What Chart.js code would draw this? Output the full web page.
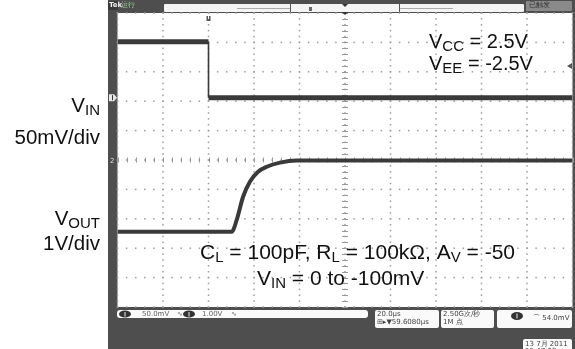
<!DOCTYPE html>
<html><head><meta charset="utf-8">
<script src="https://cdn.jsdelivr.net/npm/chart.js@4"></script>
<style>
html,body{margin:0;padding:0;background:#fff;}
#wrap{position:relative;width:575px;height:349px;overflow:hidden;font-family:"Liberation Sans",Arial,sans-serif;}
#c{position:absolute;left:0;top:0;}
.t{position:absolute;font-size:20px;line-height:20px;color:#111;white-space:nowrap;}
.b{font-size:21px;line-height:21px;}
.l{font-size:20.5px;}
.s{font-size:15px;position:relative;top:3px;}
.r{text-align:right;right:475px;}
.m{position:absolute;font-family:"DejaVu Sans",sans-serif;font-size:7px;line-height:7px;color:#666;white-space:nowrap;}
.w{color:#eee;}
</style></head>
<body><div id="wrap">
<canvas id="c" width="575" height="349"></canvas>
<div class="t r l" style="top:95px">V<span class="s">IN</span></div>
<div class="t r l" style="top:127px">50mV/div</div>
<div class="t r l" style="top:208px">V<span class="s">OUT</span></div>
<div class="t r l" style="top:233px">1V/div</div>
<div class="t" style="left:429px;top:31px">V<span class="s">CC</span> = 2.5V</div>
<div class="t" style="left:429px;top:53px">V<span class="s">EE</span> = -2.5V</div>
<div class="t b" style="left:200px;top:241px">C<span class="s">L</span> = 100pF, R<span class="s">L</span> = 100kΩ, A<span class="s">V</span> = -50</div>
<div class="t b" style="left:257px;top:267px">V<span class="s">IN</span> = 0 to -100mV</div>
<div class="m w" style="left:109px;top:2px;font-weight:bold">Tek</div>
<div class="m" style="left:121px;top:2px;color:#9c9">运行</div>
<div class="m" style="left:529px;top:2px;color:#333">已触发</div>
<div class="m" style="left:142px;top:311px">50.0mV</div>
<div class="m" style="left:177px;top:311px">∿</div>
<div class="m" style="left:202px;top:311px">1.00V</div>
<div class="m" style="left:231px;top:311px">∿</div>
<div class="m" style="left:377px;top:311px;color:#444">20.0µs</div>
<div class="m" style="left:377px;top:319px;color:#444">⊞▸▼59.6080µs</div>
<div class="m" style="left:443px;top:311px;color:#444">2.50G次/秒</div>
<div class="m" style="left:443px;top:319px;color:#444">1M 点</div>
<div class="m" style="left:533px;top:315px;color:#444">⌒ 54.0mV</div>
<div class="m" style="left:525px;top:341px;color:#444">13 7月 2011</div>
<div class="m" style="left:525px;top:348px;color:#444">15:47:23</div>
</div>
<script>
// time axis in microseconds (20 µs/div, 10 divisions); vertical values in screen divisions
const vinTimeUs  = [0, 40, 40, 200];
const vinDiv     = [4.02, 4.02, 2.12, 2.12];
const voutTimeUs = [0, 50.2, 52.4, 55.2, 58.2, 61.8, 65.6, 71.4, 78.8, 200];
const voutDiv    = [-2.44, -2.44, -2.04, -1.25, -0.74, -0.40, -0.23, -0.09, -0.02, -0.02];
const xDivisions = [0,20,40,60,80,100,120,140,160,180,200];
const yDivisions = [-5,-4,-3,-2,-1,0,1,2,3,4,5];

const pts = (xs, ys) => xs.map((x, i) => ({x, y: ys[i]}));

function rr(ctx,x,y,w,h,r,fill){ctx.beginPath();ctx.roundRect(x,y,w,h,r);ctx.fillStyle=fill;ctx.fill();}

const frame = {
  id: 'frame',
  beforeDraw(chart) {
    const {ctx, chartArea: a, scales: {x: xs, y: ys}} = chart;
    ctx.save();
    ctx.fillStyle = '#fff'; ctx.fillRect(0, 0, 575, 349);
    ctx.fillStyle = '#4e4e4e'; ctx.fillRect(108, 0, 467, 349);
    ctx.fillStyle = '#fff'; ctx.fillRect(a.left, a.top, a.right - a.left, a.bottom - a.top);
    // grid dots
    ctx.fillStyle = '#9c9c9c';
    xDivisions.forEach(t => {
      const px = xs.getPixelForValue(t);
      for (let j = 0; j <= 50; j++) {
        const py = ys.getPixelForValue(-5 + j * 0.2);
        ctx.fillRect(px - 0.75, py - 0.75, 1.5, 1.5);
      }
    });
    yDivisions.forEach(v => {
      const py = ys.getPixelForValue(v);
      for (let j = 0; j <= 50; j++) {
        const px = xs.getPixelForValue(j * 4);
        ctx.fillRect(px - 0.75, py - 0.75, 1.5, 1.5);
      }
    });
    // center crosshair ticks
    ctx.strokeStyle = '#999'; ctx.lineWidth = 1;
    const cx = xs.getPixelForValue(100), cy = ys.getPixelForValue(0);
    ctx.beginPath();
    for (let j = 0; j <= 50; j++) {
      const px = Math.round(xs.getPixelForValue(j * 4)) + 0.5;
      ctx.moveTo(px, cy - 2.5); ctx.lineTo(px, cy + 2.5);
      const py = Math.round(ys.getPixelForValue(-5 + j * 0.2)) + 0.5;
      ctx.moveTo(cx - 3, py); ctx.lineTo(cx + 3, py);
    }
    ctx.stroke();
    // top bar
    rr(ctx, 108, 1, 10, 9, 1, '#3a3a3a');
    rr(ctx, 164, 4, 360, 8, 1, '#f4f4f4');
    ctx.strokeStyle = '#aaa'; ctx.beginPath();
    ctx.moveTo(237, 8.5); ctx.lineTo(290, 8.5); ctx.moveTo(400, 8.5); ctx.lineTo(453, 8.5); ctx.stroke();
    ctx.strokeStyle = '#555'; ctx.beginPath();
    ctx.moveTo(290.5, 4); ctx.lineTo(290.5, 12); ctx.moveTo(399.5, 4); ctx.lineTo(399.5, 12); ctx.stroke();
    ctx.fillStyle = '#666'; ctx.fillRect(309, 7, 3, 4);
    ctx.fillStyle = '#333';
    ctx.beginPath(); ctx.moveTo(342, 4); ctx.lineTo(348, 4); ctx.lineTo(345, 7); ctx.fill();
    ctx.beginPath(); ctx.moveTo(342, 12); ctx.lineTo(348, 12); ctx.lineTo(345, 15); ctx.fill();
    rr(ctx, 526, 1, 46, 10, 1, '#8a8a8a');
    // trigger position marker
    const tx = xs.getPixelForValue(40);
    ctx.fillStyle = '#555'; ctx.fillRect(tx - 2, 16, 4, 5); ctx.fillStyle = '#fff'; ctx.fillRect(tx - 0.5, 16, 1, 3);
    // channel markers on left edge
    const c1 = ys.getPixelForValue(2.12);
    ctx.fillStyle = '#e8e8e8';
    ctx.beginPath(); ctx.moveTo(109, c1 - 3.5); ctx.lineTo(114, c1 - 3.5); ctx.lineTo(117, c1); ctx.lineTo(114, c1 + 3.5); ctx.lineTo(109, c1 + 3.5); ctx.fill();
    ctx.fillStyle = '#333'; ctx.fillRect(112, c1 - 2.5, 1, 5);
    ctx.fillStyle = '#ddd'; ctx.font = '7px "DejaVu Sans"'; ctx.fillText('2', 110, ys.getPixelForValue(0) + 3);
    // trigger level marker right edge
    ctx.fillStyle = '#555';
    ctx.beginPath(); ctx.moveTo(572, 63); ctx.lineTo(567, 66); ctx.lineTo(572, 69); ctx.fill();
    // bottom status boxes
    rr(ctx, 117, 310, 251, 8, 3, '#fafafa');
    rr(ctx, 375, 310, 64, 18, 2, '#fafafa');
    rr(ctx, 441, 310, 53, 18, 2, '#fafafa');
    rr(ctx, 497, 310, 75, 18, 2, '#fafafa');
    rr(ctx, 523, 339, 49, 14, 2, '#fafafa');
    ctx.fillStyle = '#333';
    ctx.beginPath(); ctx.ellipse(125, 314, 6, 3.6, 0, 0, 7); ctx.fill();
    ctx.beginPath(); ctx.ellipse(189, 314, 6, 3.6, 0, 0, 7); ctx.fill();
    ctx.beginPath(); ctx.ellipse(517, 316, 6, 4, 0, 0, 7); ctx.fill();
    ctx.fillStyle = '#eee';
    ctx.fillRect(124.5, 312, 1, 4.5); ctx.fillRect(188.5, 312, 1, 4.5); ctx.fillRect(516.5, 313.5, 1, 5);
    ctx.restore();
  }
};

new Chart(document.getElementById('c'), {
  type: 'line',
  data: {
    datasets: [
      {
        label: 'VIN', data: pts(vinTimeUs, vinDiv),
        borderColor: '#3a3a3a', borderWidth: 5, pointRadius: 0, tension: 0,
        segment: { borderWidth: c => (c.p0.parsed.x === c.p1.parsed.x ? 1.6 : 5) }
      },
      {
        label: 'VOUT', data: pts(voutTimeUs, voutDiv),
        borderColor: '#3a3a3a', borderWidth: 4, pointRadius: 0, cubicInterpolationMode: 'monotone'
      }
    ]
  },
  options: {
    responsive: false, animation: false, devicePixelRatio: 1,
    layout: { padding: { left: 117.5, right: 2.5, top: 13, bottom: 42 } },
    plugins: { legend: { display: false }, tooltip: { enabled: false } },
    scales: {
      x: { type: 'linear', display: false, min: 0, max: 200 },
      y: { type: 'linear', display: false, min: -5, max: 5 }
    }
  },
  plugins: [frame]
});
</script>
</body></html>
